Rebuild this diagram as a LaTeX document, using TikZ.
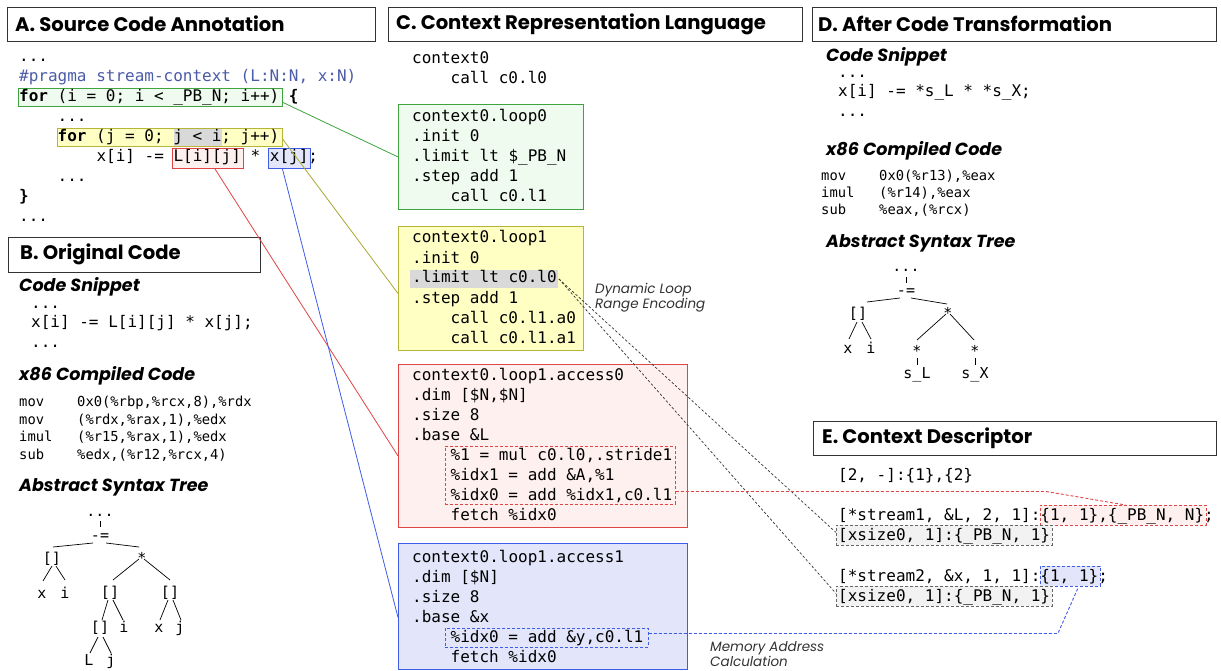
\documentclass[tikz,border=0pt]{standalone}
\usepackage{fontspec}
\setmainfont{Poppins}
\newfontfamily\mono{DejaVu Sans Mono}
\definecolor{greenD}{HTML}{3FA33F}
\definecolor{greenF}{HTML}{F0FBF0}
\definecolor{yelD}{HTML}{B5B53A}
\definecolor{yelF}{HTML}{FFFFC4}
\definecolor{redD}{HTML}{E04545}
\definecolor{redF}{HTML}{FFF0F0}
\definecolor{bluD}{HTML}{3F5CE6}
\definecolor{bluF}{HTML}{E3E6FB}
\definecolor{hlgray}{HTML}{D9D9D9}
\definecolor{pragmaC}{HTML}{4B5CA8}
\definecolor{olive}{HTML}{A8A830}
\tikzset{
 code/.style={font=\mono\fontsize{16}{20}\selectfont, anchor=base west, inner sep=0pt},
 asm/.style={font=\mono\fontsize{13.8}{17}\selectfont, anchor=base west, inner sep=0pt},
 ttl/.style={font=\fontsize{19.6}{22}\selectfont\bfseries, anchor=west, inner sep=0pt},
 tbox/.style={draw=black!80, line width=0.8pt, fill=white, anchor=north west, inner sep=0pt},
 hd/.style={font=\fontsize{17.5}{20}\selectfont\bfseries\itshape, anchor=west, inner sep=0pt},
 note/.style={font=\fontsize{13.5}{13.5}\selectfont\itshape, text=black!80, anchor=west, inner sep=0pt, align=left},
 tn/.style={font=\mono\fontsize{15}{15}\selectfont, inner sep=0pt, anchor=base},
 cbox/.style={anchor=north west, inner sep=0pt, line width=0.9pt},
 treeline/.style={line width=0.7pt, black},
 rdash/.style={draw=redD, line width=0.9pt, dash pattern=on 3pt off 2pt},
 bdash/.style={draw=bluD, line width=0.9pt, dash pattern=on 3pt off 2pt},
 kdash/.style={draw=black!80, line width=0.7pt, dash pattern=on 2.5pt off 2pt},
 gdash/.style={draw=black!60, line width=0.9pt, dash pattern=on 3pt off 2pt},
 conn/.style={line width=0.8pt},
}
\newcommand\tedge[6]{\draw[treeline] ([xshift=#2pt,yshift=#3pt]#1.base) -- ([xshift=#5pt,yshift=#6pt]#4.base);}
\begin{document}
\begin{tikzpicture}[x=1pt,y=-1pt]
\useasboundingbox (0,0) rectangle (1221,671);
\fill[white] (0,0) rectangle (1221,671);

% ---------- titles ----------
\node[tbox, minimum width=368pt, minimum height=34pt] (tA) at (7,7) {};
\node[ttl] (tAt) at (15,24) {A. Source Code Annotation};
\node[tbox, minimum width=414pt, minimum height=34pt] (tC) at (388,7) {};
\node[ttl] (tCt) at (396,24) {C. Context Representation Language};
\node[tbox, minimum width=404pt, minimum height=34pt] (tD) at (812,7) {};
\node[ttl] (tDt) at (818,24) {D. After Code Transformation};
\node[tbox, minimum width=252pt, minimum height=35pt] (tB) at (8,237) {};
\node[ttl] (tBt) at (20,254.5) {B. Original Code};
\node[tbox, minimum width=403pt, minimum height=34pt] (tE) at (813,421) {};
\node[ttl] (tEt) at (822,438) {E. Context Descriptor};

% ---------- A ----------
\node[cbox, draw=greenD, fill=greenF, minimum width=264pt, minimum height=18pt] (ag) at (18,88) {};
\node[cbox, draw=yelD, fill=yelF, minimum width=225pt, minimum height=18pt] (ay) at (57,128) {};
\node[cbox, fill=hlgray, minimum width=48pt, minimum height=17pt] (ah) at (173.5,128.5) {};
\node[cbox, draw=redD, fill=redF, minimum width=71pt, minimum height=20pt] (ar) at (172,148) {};
\node[cbox, draw=bluD, fill=bluF, minimum width=42pt, minimum height=20pt] (ab) at (268,148) {};

\node[code] (a1) at (19,62) {...};
\node[code, text=pragmaC] (a2) at (19,82) {\#pragma stream-context (L:N:N, x:N)};
\node[code] (a3) at (19,102) {\textbf{for} (i = 0; i < \_PB\_N; i++) \textbf{\{}};
\node[code] (a4) at (57.5,122) {...};
\node[code] (a5) at (57.5,142) {\textbf{for} (j = 0; j < i; j++)};
\node[code] (a6) at (96.3,162) {x[i] -= L[i][j] * x[j];};
\node[code] (a7) at (57.5,182) {...};
\node[code] (a8) at (19,202) {\textbf{\}}};
\node[code] (a9) at (19,222) {...};

% ---------- B ----------
\node[hd] (bh1) at (19,287) {Code Snippet};
\node[code] (b1) at (31,308) {...};
\node[code] (b2) at (31,327) {x[i] -= L[i][j] * x[j];};
\node[code] (b3) at (31,347) {...};
\node[hd] (bh2) at (19,376) {x86 Compiled Code};
\node[asm] (bm1) at (19,406.5) {mov};
\node[asm] (bo1) at (77,406.5) {0x0(\%rbp,\%rcx,8),\%rdx};
\node[asm] (bm2) at (19,424) {mov};
\node[asm] (bo2) at (77,424) {(\%rdx,\%rax,1),\%edx};
\node[asm] (bm3) at (19,441.5) {imul};
\node[asm] (bo3) at (77,441.5) {(\%r15,\%rax,1),\%edx};
\node[asm] (bm4) at (19,459) {sub};
\node[asm] (bo4) at (77,459) {\%edx,(\%r12,\%rcx,4)};
\node[hd] (bh3) at (19,487) {Abstract Syntax Tree};

% B tree
\node[tn] (bd) at (100,516) {...};
\node[tn] (beq) at (100,540) {-=};
\node[tn] (blb) at (52,563) {[]};
\node[tn] (bst) at (142,563) {*};
\node[tn] (bx) at (42,598) {x};
\node[tn] (bi) at (65,598) {i};
\node[tn] (blb2) at (110,597) {[]};
\node[tn] (blb3) at (170,597) {[]};
\node[tn] (blb4) at (100,632) {[]};
\node[tn] (bi2) at (124,632) {i};
\node[tn] (bx2) at (159,632) {x};
\node[tn] (bj2) at (180,632) {j};
\node[tn] (bL) at (89,665) {L};
\node[tn] (bj3) at (111,665) {j};
\tedge{bd}{0}{-5}{beq}{0}{13}
\tedge{beq}{-7}{-3}{blb}{1}{16}
\tedge{beq}{6}{-3}{bst}{-3}{16}
\tedge{blb}{0}{-3}{bx}{1}{17}
\tedge{blb}{4}{-3}{bi}{0}{18}
\tedge{bst}{-3}{4}{blb2}{3}{17}
\tedge{bst}{2}{4}{blb3}{0}{17}
\tedge{blb2}{-2}{-3}{blb4}{2}{12}
\tedge{blb2}{3}{-3}{bi2}{-1}{12}
\tedge{blb3}{-2}{-3}{bx2}{1}{12}
\tedge{blb3}{3}{-3}{bj2}{1}{12}
\tedge{blb4}{-2}{-5}{bL}{1}{12}
\tedge{blb4}{3}{-5}{bj3}{0}{12}

% ---------- C ----------
\node[code] (c01) at (412,64) {context0};
\node[code] (c02) at (450.5,84) {call c0.l0};

\node[cbox, draw=greenD, fill=greenF, minimum width=185pt, minimum height=105pt] (cg) at (398,104) {};
\node[code] (cg1) at (412,122) {context0.loop0};
\node[code] (cg2) at (412,142) {.init 0};
\node[code] (cg3) at (412,162) {.limit lt \$\_PB\_N};
\node[code] (cg4) at (412,182) {.step add 1};
\node[code] (cg5) at (450.5,202) {call c0.l1};

\node[cbox, draw=yelD, fill=yelF, minimum width=185pt, minimum height=124pt] (cy) at (398,226) {};
\node[cbox, fill=hlgray, minimum width=148pt, minimum height=18pt] (chl) at (410,269.5) {};
\node[code] (cy1) at (412,243) {context0.loop1};
\node[code] (cy2) at (412,263) {.init 0};
\node[code] (cy3) at (412,283) {.limit lt c0.l0};
\node[code] (cy4) at (412,303) {.step add 1};
\node[code] (cy5) at (450.5,323) {call c0.l1.a0};
\node[code] (cy6) at (450.5,343) {call c0.l1.a1};
\node[note] (n1) at (595,297.5) {Dynamic Loop\\Range Encoding};

\node[cbox, draw=redD, fill=redF, minimum width=289pt, minimum height=163pt] (cr) at (398,364) {};
\node[cbox, rdash, minimum width=230pt, minimum height=58pt] (crin) at (445,446) {};
\node[code] (cr1) at (412,380) {context0.loop1.access0};
\node[code] (cr2) at (412,400) {.dim [\$N,\$N]};
\node[code] (cr3) at (412,420) {.size 8};
\node[code] (cr4) at (412,440) {.base \&L};
\node[code] (cr5) at (450.5,460) {\%1 = mul c0.l0,.stride1};
\node[code] (cr6) at (450.5,480) {\%idx1 = add \&A,\%1};
\node[code] (cr7) at (450.5,500) {\%idx0 = add \%idx1,c0.l1};
\node[code] (cr8) at (450.5,520) {fetch \%idx0};

\node[cbox, draw=bluD, fill=bluF, minimum width=289pt, minimum height=126pt] (cb) at (398,543) {};
\node[cbox, bdash, minimum width=203pt, minimum height=19pt] (cbin) at (445,628) {};
\node[code] (cb1) at (412,562) {context0.loop1.access1};
\node[code] (cb2) at (412,582) {.dim [\$N]};
\node[code] (cb3) at (412,602) {.size 8};
\node[code] (cb4) at (412,622) {.base \&x};
\node[code] (cb5) at (450.5,642) {\%idx0 = add \&y,c0.l1};
\node[code] (cb6) at (450.5,662) {fetch \%idx0};
\node[note] (n2) at (710,654) {Memory Address\\Calculation};

% ---------- D ----------
\node[hd] (dh1) at (826,57) {Code Snippet};
\node[code] (d1) at (838,78) {...};
\node[code] (d2) at (838,97) {x[i] -= *s\_L * *s\_X;};
\node[code] (d3) at (838,117) {...};
\node[hd] (dh2) at (826,151) {x86 Compiled Code};
\node[asm] (dm1) at (821,181) {mov};
\node[asm] (do1) at (879,181) {0x0(\%r13),\%eax};
\node[asm] (dm2) at (821,198) {imul};
\node[asm] (do2) at (879,198) {(\%r14),\%eax};
\node[asm] (dm3) at (821,215) {sub};
\node[asm] (do3) at (879,215) {\%eax,(\%rcx)};
\node[hd] (dh3) at (826,243) {Abstract Syntax Tree};

% D tree
\node[tn] (dd) at (906,272) {...};
\node[tn] (deq) at (906,295) {-=};
\node[tn] (dlb) at (858,318) {[]};
\node[tn] (dst) at (948,318) {*};
\node[tn] (dx) at (848,353) {x};
\node[tn] (di) at (871,353) {i};
\node[tn] (ds2) at (917,356) {*};
\node[tn] (ds3) at (975,356) {*};
\node[tn] (dsL) at (917,378) {s\_L};
\node[tn] (dsX) at (975,378) {s\_X};
\tedge{dd}{0}{-5}{deq}{0}{12}
\tedge{deq}{-6}{-3}{dlb}{9}{16}
\tedge{deq}{5}{-3}{dst}{-1}{14}
\tedge{dlb}{-1}{-4}{dx}{1}{14}
\tedge{dlb}{4}{-4}{di}{0}{14}
\tedge{dst}{-2}{4}{ds2}{0}{16}
\tedge{dst}{2}{4}{ds3}{-1}{16}
\tedge{ds2}{0}{-2}{dsL}{0}{13}
\tedge{ds3}{0}{-2}{dsX}{0}{13}

% ---------- E ----------
\node[code] (e0) at (838,480) {[2, -]:\{1\},\{2\}};
\node[cbox, rdash, fill=redF, minimum width=166pt, minimum height=20pt] (er) at (1040,505) {};
\node[cbox, gdash, fill=black!5, minimum width=216pt, minimum height=20pt] (ex1) at (836,525) {};
\node[cbox, bdash, fill=bluF, minimum width=60pt, minimum height=20pt] (eb) at (1040,566) {};
\node[cbox, gdash, fill=black!5, minimum width=216pt, minimum height=20pt] (ex2) at (836,586) {};
\node[code] (e1) at (838,520) {[*stream1, \&L, 2, 1]:\{1, 1\},\{\_PB\_N, N\};};
\node[code] (e2) at (838,540) {[xsize0, 1]:\{\_PB\_N, 1\}};
\node[code] (e3) at (838,581) {[*stream2, \&x, 1, 1]:\{1, 1\};};
\node[code] (e4) at (838,601) {[xsize0, 1]:\{\_PB\_N, 1\}};

% ---------- connectors ----------
\draw[conn, greenD] ([yshift=-5pt]ag.east) -- (cg.west);
\draw[conn, olive] ([yshift=-2pt]ay.east) -- ([yshift=-5pt]cy.west);
\draw[conn, redD] ([xshift=7pt]ar.south) -- ([yshift=-10pt]cr.west);
\draw[conn, bluD] ([xshift=-7pt]ab.south) -- ([yshift=-11pt]cb.west);

\draw[kdash] (chl.east) -- ([yshift=3pt]ex1.west);
\draw[kdash] (chl.east) -- ([yshift=3pt]ex2.west);
\draw[rdash] ([yshift=-16pt]crin.east) -- ++(370,0) -- ([xshift=2pt]er.north);
\draw[bdash] ([yshift=4.5pt]cbin.east) -- ++(409,0) -- ([xshift=8pt]eb.south);
\end{tikzpicture}
\end{document}
